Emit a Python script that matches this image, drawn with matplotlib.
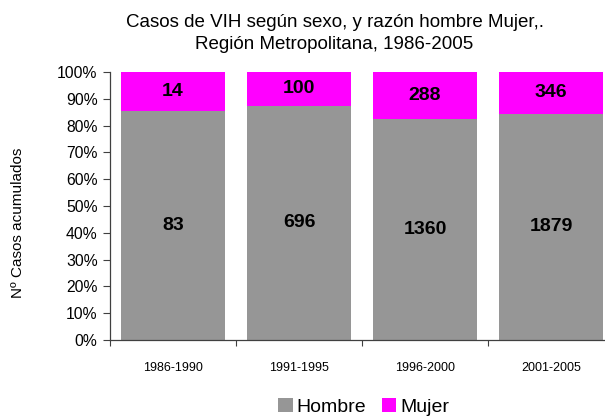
import numpy as np
import matplotlib
matplotlib.use("Agg")
import matplotlib.pyplot as plt
from matplotlib.ticker import PercentFormatter

plt.rcParams['font.family'] = ['Liberation Sans', 'DejaVu Sans']

# datos
periodos = ['1986-1990', '1991-1995', '1996-2000', '2001-2005']
hombre = np.array([83, 696, 1360, 1879])
mujer = np.array([14, 100, 288, 346])

total = hombre + mujer
pct_h = hombre / total * 100
pct_m = mujer / total * 100

gris = '#969696'
magenta = '#FF00FF'

fig = plt.figure(figsize=(6.05, 4.16), dpi=100)
ax = fig.add_axes([110 / 605, 1 - 340 / 416, 504 / 605, 268 / 416])

x = np.arange(len(periodos))
ax.bar(x, pct_h, width=0.83, color=gris, label='Hombre')
ax.bar(x, pct_m, width=0.83, bottom=pct_h, color=magenta, label='Mujer')

# etiquetas de valores
for i in range(len(x)):
    ax.text(x[i], pct_h[i] / 2, str(hombre[i]), ha='center', va='center',
            fontsize=14, fontweight='bold')
    ax.text(x[i], pct_h[i] + pct_m[i] / 2, str(mujer[i]), ha='center',
            va='center', fontsize=14, fontweight='bold')

ax.set_xlim(-0.5, 3.5)
ax.set_ylim(0, 100)
ax.set_yticks(np.arange(0, 101, 10))
ax.yaxis.set_major_formatter(PercentFormatter(decimals=0))
ax.tick_params(axis='y', labelsize=11.3, length=5, width=0.8, color='#404040', pad=4)

# ticks en los bordes de categoria, etiquetas al centro
ax.set_xticks(np.arange(-0.5, 4, 1))
ax.set_xticklabels([])
ax.set_xticks(x, minor=True)
ax.set_xticklabels(periodos, minor=True, fontsize=9)
ax.tick_params(axis='x', which='major', length=4, width=0.8, color='#404040')
ax.tick_params(axis='x', which='minor', length=0, pad=16)

for s in ['top', 'right']:
    ax.spines[s].set_visible(False)
for s in ['left', 'bottom']:
    ax.spines[s].set_color('#404040')
    ax.spines[s].set_linewidth(0.9)

fig.text(0.553, 0.947, 'Casos de VIH según sexo, y razón hombre Mujer,.',
         ha='center', va='center', fontsize=13.5)
fig.text(0.553, 0.892, 'Región Metropolitana, 1986-2005',
         ha='center', va='center', fontsize=13.5)

fig.text(18 / 605, 1 - 223 / 416, 'Nº Casos acumulados', rotation=90,
         ha='center', va='center', fontsize=11)

fig.legend(loc='center', bbox_to_anchor=(0.601, 1 - 407 / 416), ncol=2,
           frameon=False, fontsize=14, handlelength=0.75, handleheight=0.75,
           handletextpad=0.2, columnspacing=0.8)

fig.savefig('out.png', dpi=100)
